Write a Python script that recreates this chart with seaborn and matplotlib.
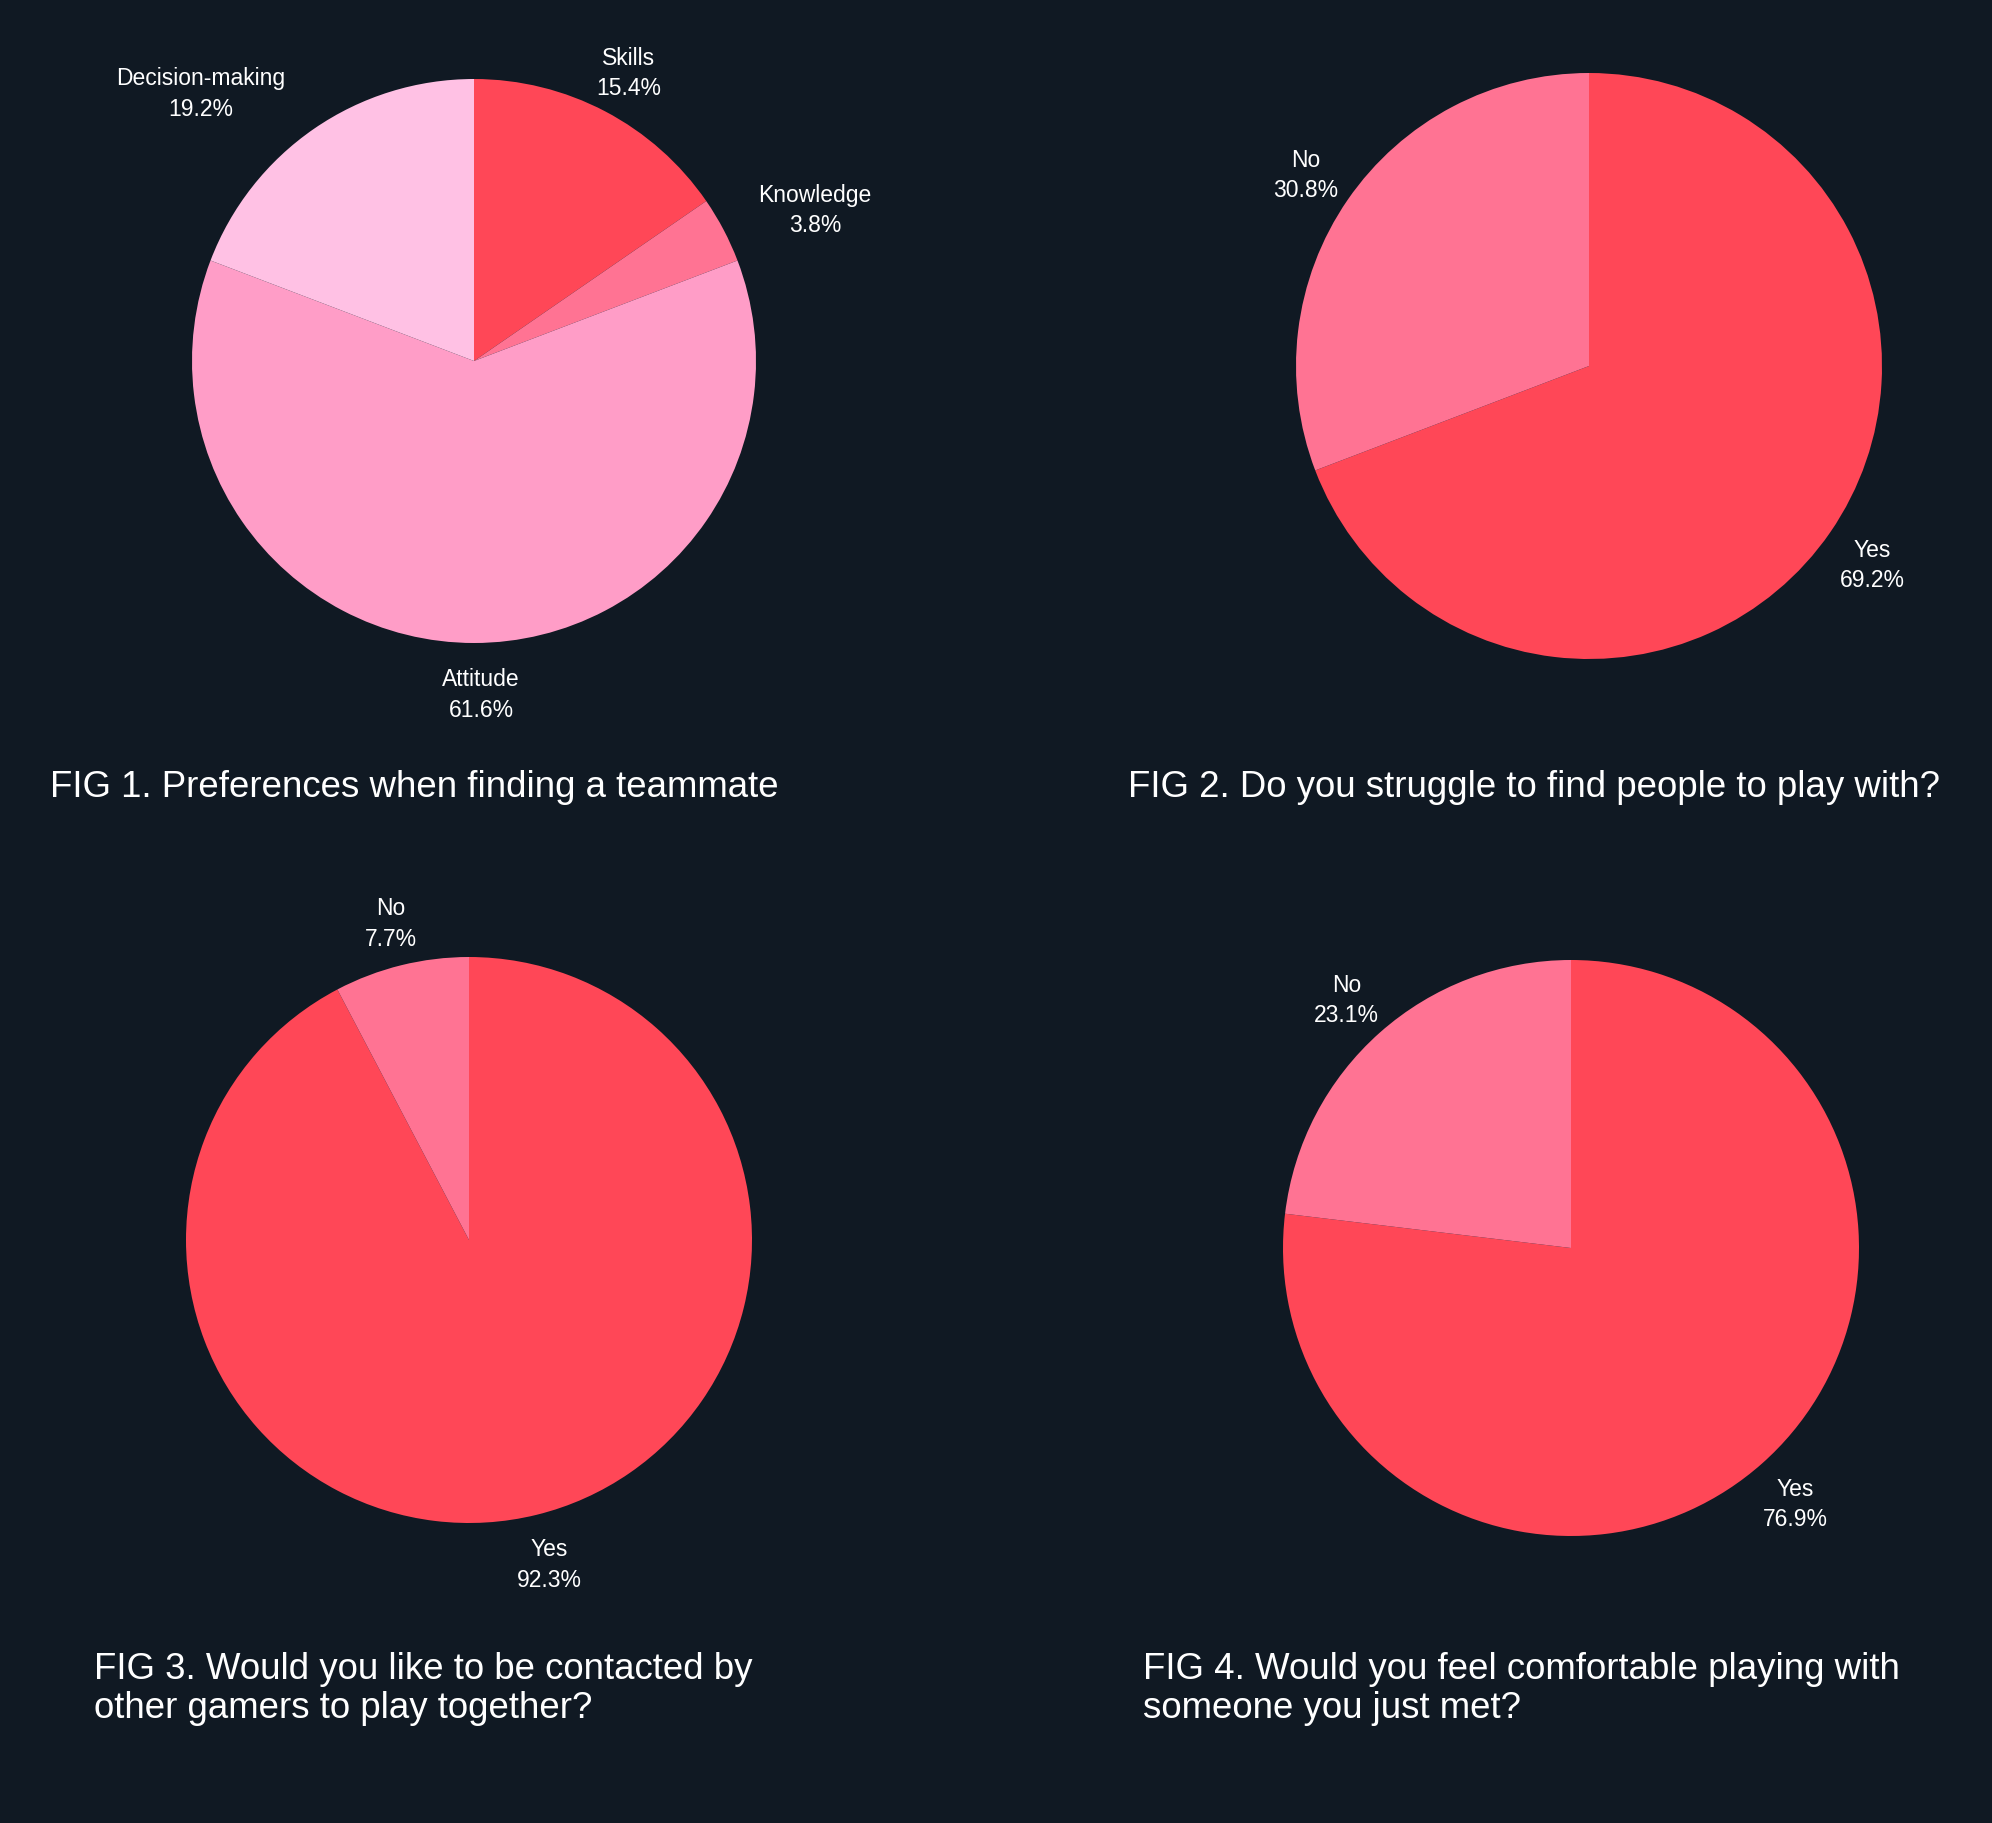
import numpy as np
import matplotlib
matplotlib.use("Agg")
import matplotlib.pyplot as plt
import seaborn as sns

# data
fig1_labels = ["Skills", "Knowledge", "Attitude", "Decision-making"]
fig1_values = [15.4, 3.8, 61.6, 19.2]
fig2_labels = ["Yes", "No"]
fig2_values = [69.2, 30.8]
fig3_labels = ["Yes", "No"]
fig3_values = [92.3, 7.7]
fig4_labels = ["Yes", "No"]
fig4_values = [76.9, 23.1]

titles = [
    "FIG 1. Preferences when finding a teammate",
    "FIG 2. Do you struggle to find people to play with?",
    "FIG 3. Would you like to be contacted by\nother gamers to play together?",
    "FIG 4. Would you feel comfortable playing with\nsomeone you just met?",
]

bg = "#101923"
red, pink, midpink, lightpink = "#FF4757", "#FF7393", "#FF9DC7", "#FFC1E4"
pal1 = sns.color_palette([red, pink, midpink, lightpink])
pal_yn = sns.color_palette([red, pink])

sns.set_theme(style="dark", rc={"figure.facecolor": bg, "axes.facecolor": bg})
plt.rcParams["font.family"] = ["Liberation Sans", "DejaVu Sans"]

W, H = 1992, 1824
fig = plt.figure(figsize=(W / 100, H / 100), dpi=100)
fig.patch.set_facecolor(bg)
renderer = fig.canvas.get_renderer()

# pie placement in pixels: centre x, centre y (from top), radius
places = [(474, 362, 282), (1589, 367, 293), (469, 1241, 283), (1571, 1249, 288)]
datasets = [(fig1_labels, fig1_values, pal1), (fig2_labels, fig2_values, pal_yn),
            (fig3_labels, fig3_values, pal_yn), (fig4_labels, fig4_values, pal_yn)]


def draw_pie(ax, labels, values, colors):
    ax.set_facecolor(bg)
    ax.pie(values, colors=colors, startangle=90, counterclock=False,
           radius=1, wedgeprops=dict(linewidth=0))
    ax.set_xlim(-1, 1)
    ax.set_ylim(-1, 1)
    ax.set_aspect("equal")
    ax.axis("off")
    total = sum(values)
    cum = 0
    for lab, v in zip(labels, values):
        mid = (cum + v / 2) / total * 2 * np.pi
        cum += v
        ux, uy = np.sin(mid), np.cos(mid)
        d = 1.06
        t = ax.annotate(f"{lab}\n{v:.1f}%", xy=(d * ux, d * uy), xytext=(0, 0),
                        textcoords="offset pixels", ha="center", va="center",
                        multialignment="center", color="white", fontsize=16.5,
                        linespacing=1.43, annotation_clip=False)
        bb = t.get_window_extent(renderer)
        # push label box outwards so it clears the pie (wide labels a bit more)
        ox = ux * bb.width / 2 + np.sign(ux) * 0.53 * max(0, bb.width - 64)
        oy = uy * bb.height / 2 - (7 if uy < 0 else 0)
        t.xyann = (ox, oy)


for (cx, cy, r), (labs, vals, cols) in zip(places, datasets):
    ax = fig.add_axes([(cx - r) / W, 1 - (cy + r) / H, 2 * r / W, 2 * r / H])
    draw_pie(ax, labs, vals, cols)

# captions (baseline of last line)
title_pos = [(50, 797), (1128, 797), (94, 1718), (1143, 1718)]
for (x, y), t in zip(title_pos, titles):
    fig.text(x / W, 1 - y / H, t, ha="left", va="baseline", color="white",
             fontsize=26.4, linespacing=1.15)

fig.savefig("out.png", dpi=100, facecolor=bg)
